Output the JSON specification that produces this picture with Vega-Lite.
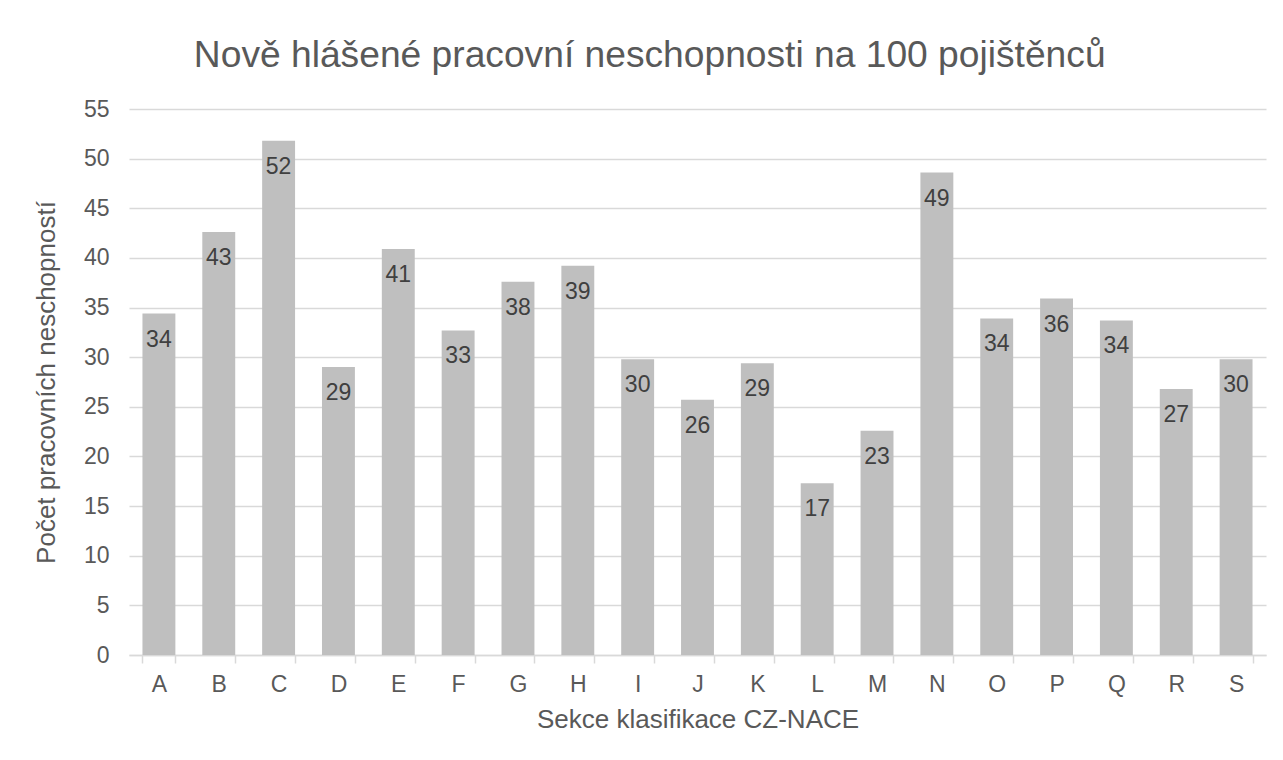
{
  "$schema": "https://vega.github.io/schema/vega-lite/v6.json",
  "width": 1137,
  "height": 546,
  "autosize": {"type": "none"},
  "padding": {"left": 129, "top": 109, "right": 17, "bottom": 105},
  "background": "white",
  "title": {
    "text": "Nově hlášené pracovní neschopnosti na 100 pojištěnců",
    "anchor": "middle",
    "frame": "bounds",
    "font": "Liberation Sans",
    "fontSize": 37.2,
    "fontWeight": "normal",
    "color": "#595959",
    "baseline": "alphabetic",
    "offset": 30,
    "dy": 36
  },
  "data": {
    "values": [
      {"sekce": "A", "pocet": 34.4},
      {"sekce": "B", "pocet": 42.6},
      {"sekce": "C", "pocet": 51.8},
      {"sekce": "D", "pocet": 29.0},
      {"sekce": "E", "pocet": 40.9},
      {"sekce": "F", "pocet": 32.7},
      {"sekce": "G", "pocet": 37.6},
      {"sekce": "H", "pocet": 39.2},
      {"sekce": "I", "pocet": 29.8},
      {"sekce": "J", "pocet": 25.7},
      {"sekce": "K", "pocet": 29.4},
      {"sekce": "L", "pocet": 17.3},
      {"sekce": "M", "pocet": 22.6},
      {"sekce": "N", "pocet": 48.6},
      {"sekce": "O", "pocet": 33.9},
      {"sekce": "P", "pocet": 35.9},
      {"sekce": "Q", "pocet": 33.7},
      {"sekce": "R", "pocet": 26.8},
      {"sekce": "S", "pocet": 29.8}
    ]
  },
  "encoding": {
    "x": {
      "field": "sekce",
      "type": "nominal",
      "sort": null,
      "scale": {"paddingInner": 0.45, "paddingOuter": 0.225},
      "axis": {
        "title": "Sekce klasifikace CZ-NACE",
        "labelAngle": 0,
        "labelFontSize": 23,
        "labelFont": "Liberation Sans",
        "labelColor": "#595959",
        "labelPadding": 10,
        "tickSize": 8,
        "tickColor": "#D9D9D9",
        "tickWidth": 1.5,
        "tickBand": "extent",
        "domainColor": "#D9D9D9",
        "domainWidth": 1.5,
        "titleFont": "Liberation Sans",
        "titleFontSize": 26,
        "titleFontWeight": "normal",
        "titleColor": "#595959",
        "titlePadding": 10
      }
    },
    "y": {
      "field": "pocet",
      "type": "quantitative",
      "scale": {"domain": [0, 55], "nice": false},
      "axis": {
        "title": "Počet pracovních neschopností",
        "values": [0, 5, 10, 15, 20, 25, 30, 35, 40, 45, 50, 55],
        "ticks": false,
        "tickSize": 0,
        "domain": false,
        "grid": true,
        "gridColor": "#D9D9D9",
        "gridWidth": 1.5,
        "labelFontSize": 23,
        "labelFont": "Liberation Sans",
        "labelColor": "#595959",
        "labelPadding": 20,
        "titleFont": "Liberation Sans",
        "titleFontSize": 26,
        "titleFontWeight": "normal",
        "titleColor": "#595959",
        "titlePadding": 24
      }
    }
  },
  "layer": [
    {"mark": {"type": "bar", "color": "#BFBFBF"}},
    {
      "mark": {
        "type": "text",
        "baseline": "middle",
        "align": "center",
        "dy": 26,
        "font": "Liberation Sans",
        "fontSize": 23,
        "color": "#404040"
      },
      "encoding": {"text": {"field": "pocet", "type": "quantitative", "format": ".0f"}}
    }
  ],
  "config": {"view": {"stroke": null}}
}
